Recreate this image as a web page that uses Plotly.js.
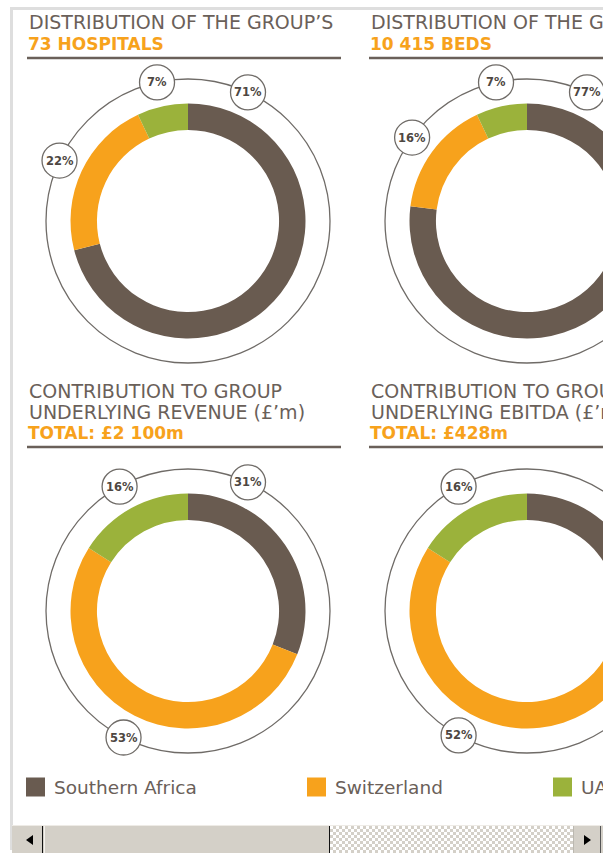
<!DOCTYPE html>
<html><head><meta charset="utf-8">
<script src="https://cdn.plot.ly/plotly-3.0.1.min.js"></script>
<style>
html,body{margin:0;padding:0;width:603px;height:853px;overflow:hidden;background:#fff;}
#frame{position:absolute;left:10px;top:7px;width:720px;height:840px;border-top:3px solid #dedede;border-left:3px solid #dedede;}
#chart{position:absolute;left:0;top:0;width:700px;height:825px;}
#sb{position:absolute;left:12px;top:825px;width:591px;height:28px;background:#d4d0c8;border-top:1px solid #eeebe6;box-sizing:border-box;}
#sb .btnL{position:absolute;left:0;top:0;width:31px;height:27px;border-right:1px solid #111;box-sizing:border-box;}
#sb .btnR{position:absolute;left:561px;top:0;width:28px;height:27px;border-left:1px solid #bbb8b0;border-right:1px solid #555;box-sizing:border-box;}
#sb .triL{position:absolute;left:14px;top:9px;width:0;height:0;border-top:5px solid transparent;border-bottom:5px solid transparent;border-right:7px solid #000;}
#sb .triR{position:absolute;left:10px;top:9px;width:0;height:0;border-top:5px solid transparent;border-bottom:5px solid transparent;border-left:7px solid #000;}
#sb .thumb{position:absolute;left:32px;top:0;width:286px;height:27px;border-left:1px solid #f4f2ee;border-right:1px solid #111;box-sizing:border-box;}
#sb .track{position:absolute;left:318px;top:0;width:243px;height:27px;
 background-color:#fff;
 background-image:repeating-conic-gradient(#d4d0c8 0 25%, #ffffff 0 50%);
 background-size:6px 6px;}
</style>
</head><body>
<div id="frame"></div>
<div id="chart"></div>
<div id="sb"><div class="btnL"><div class="triL"></div></div><div class="thumb"></div><div class="track"></div><div class="btnR"><div class="triR"></div></div></div>
<script>
// ---- data ----
const categories = ['Southern Africa', 'Switzerland', 'UAE'];
const hospitalsPct = [71, 22, 7];
const bedsPct = [77, 16, 7];
const revenuePct = [31, 53, 16];
const ebitdaPct = [32, 52, 16];
const titleLines = [
  ["DISTRIBUTION OF THE GROUP’S"],
  ["DISTRIBUTION OF THE GROUP’S"],
  ["CONTRIBUTION TO GROUP", "UNDERLYING REVENUE (£’m)"],
  ["CONTRIBUTION TO GROUP", "UNDERLYING EBITDA (£’m)"]
];
const totals = ["73 HOSPITALS", "10 415 BEDS", "TOTAL: £2 100m", "TOTAL: £428m"];
const seriesValues = [hospitalsPct, bedsPct, revenuePct, ebitdaPct];

// ---- styles / layout config ----
const colors = ['#695b50', '#f7a21c', '#9bb23b'];
const greyText = '#6a6059';
const W = 700, H = 825;
const px = x => x / W;
const py = y => 1 - y / H;
const panels = [
  {cx: 188, cy: 221, tx: 27, ty: 22.5, firstLabelAngle: 25},
  {cx: 527, cy: 221, tx: 369, ty: 22.5, firstLabelAngle: 25},
  {cx: 188, cy: 611, tx: 27, ty: 390.5, firstLabelAngle: 25},
  {cx: 527, cy: 611, tx: 369, ty: 390.5, firstLabelAngle: null}
];
const R_DONUT = 117.5, R_OUTER = 142, R_LABEL = 17.5, LINE_GAP = 21;
const legendX = [26, 307, 553];

const traces = [], shapes = [], annotations = [];

panels.forEach((p, i) => {
  const vals = seriesValues[i];
  traces.push({
    type: 'pie', values: vals, labels: categories, sort: false,
    direction: 'clockwise', rotation: 0, hole: 0.775,
    marker: {colors: colors, line: {width: 0}},
    textinfo: 'none', hoverinfo: 'label+percent', showlegend: false,
    domain: {x: [px(p.cx - R_DONUT), px(p.cx + R_DONUT)], y: [py(p.cy + R_DONUT), py(p.cy - R_DONUT)]}
  });
  // title lines
  const lines = titleLines[i];
  lines.forEach((t, k) => {
    annotations.push({x: px(p.tx), y: py(p.ty + k * LINE_GAP), xref: 'paper', yref: 'paper',
      xanchor: 'left', yanchor: 'middle', showarrow: false, text: t,
      font: {family: 'DejaVu Sans', size: 19, color: greyText}});
  });
  const totY = p.ty + lines.length * LINE_GAP;
  annotations.push({x: px(p.tx - 1), y: py(totY), xref: 'paper', yref: 'paper',
    xanchor: 'left', yanchor: 'middle', showarrow: false, text: '<b>' + totals[i] + '</b>',
    font: {family: 'DejaVu Sans', size: 17, color: colors[1]}});
  const ruleY = totY + 14.5;
  shapes.push({type: 'line', xref: 'paper', yref: 'paper', x0: px(p.tx), x1: px(p.tx + 314),
    y0: py(ruleY), y1: py(ruleY), line: {color: greyText, width: 2.5}});
  // outer thin circle
  shapes.push({type: 'circle', xref: 'paper', yref: 'paper',
    x0: px(p.cx - R_OUTER), x1: px(p.cx + R_OUTER), y0: py(p.cy + R_OUTER), y1: py(p.cy - R_OUTER),
    line: {color: '#6f6b67', width: 1.3}});
  // percentage labels
  const total = vals.reduce((a, b) => a + b, 0);
  let cum = 0;
  vals.forEach((v, j) => {
    let ang = (cum + v / 2) / total * 360;
    cum += v;
    if (j === 0 && p.firstLabelAngle !== null) ang = p.firstLabelAngle;
    const a = ang * Math.PI / 180;
    const lx = p.cx + R_OUTER * Math.sin(a), ly = p.cy - R_OUTER * Math.cos(a);
    shapes.push({type: 'circle', xref: 'paper', yref: 'paper',
      x0: px(lx - R_LABEL), x1: px(lx + R_LABEL), y0: py(ly + R_LABEL), y1: py(ly - R_LABEL),
      fillcolor: '#ffffff', line: {color: '#6f6b67', width: 1.3}});
    annotations.push({x: px(lx), y: py(ly), xref: 'paper', yref: 'paper', showarrow: false,
      xanchor: 'center', yanchor: 'middle', text: '<b>' + v + '%</b>',
      font: {family: 'DejaVu Sans', size: 11.5, color: '#4e4742'}});
  });
});

// custom legend
categories.forEach((c, i) => {
  const x = legendX[i];
  shapes.push({type: 'rect', xref: 'paper', yref: 'paper', x0: px(x), x1: px(x + 19),
    y0: py(796.5), y1: py(777.5), fillcolor: colors[i], line: {width: 0}});
  annotations.push({x: px(x + 26), y: py(787.5), xref: 'paper', yref: 'paper', showarrow: false,
    xanchor: 'left', yanchor: 'middle', text: c,
    font: {family: 'DejaVu Sans', size: 18.5, color: greyText}});
});

const layout = {
  width: W, height: H, margin: {l: 0, r: 0, t: 0, b: 0},
  paper_bgcolor: 'rgba(0,0,0,0)', plot_bgcolor: 'rgba(0,0,0,0)',
  showlegend: false, shapes: shapes, annotations: annotations
};
Plotly.newPlot('chart', traces, layout, {displayModeBar: false, staticPlot: true});
</script>
</body></html>
